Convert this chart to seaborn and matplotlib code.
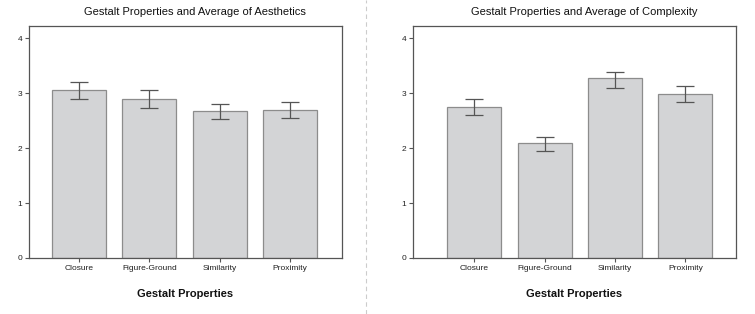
import numpy as np
import pandas as pd
import matplotlib
matplotlib.use("Agg")
import matplotlib.pyplot as plt
import seaborn as sns

# Datos
propiedades = ["Closure", "Figure-Ground", "Similarity", "Proximity"]

estetica_media = [3.05, 2.885, 2.67, 2.685]
estetica_inf = [2.90, 2.72, 2.52, 2.54]
estetica_sup = [3.20, 3.05, 2.81, 2.83]

complejidad_media = [2.75, 2.085, 3.27, 2.99]
complejidad_inf = [2.61, 1.94, 3.10, 2.83]
complejidad_sup = [2.885, 2.21, 3.39, 3.12]

sns.set_style("white")
plt.rcParams["font.family"] = ["Liberation Sans", "DejaVu Sans"]

fig = plt.figure(figsize=(7.55, 3.14), dpi=100)
ax1 = fig.add_axes([29 / 755, 1 - 258 / 314, 313 / 755, 232 / 314])
ax2 = fig.add_axes([413 / 755, 1 - 258 / 314, 323 / 755, 232 / 314])

paneles = [
    (ax1, estetica_media, estetica_inf, estetica_sup,
     "Gestalt Properties and Average of Aesthetics", (-0.71, 3.74)),
    (ax2, complejidad_media, complejidad_inf, complejidad_sup,
     "Gestalt Properties and Average of Complexity", (-0.87, 3.72)),
]

for ax, media, inf, sup, titulo, xlim in paneles:
    df = pd.DataFrame({"prop": propiedades, "valor": media})
    sns.barplot(data=df, x="prop", y="valor", ax=ax, color="#d3d4d6",
                saturation=1, edgecolor="#8c8c8c", linewidth=0.9,
                width=0.77, errorbar=None)
    media = np.array(media)
    yerr = [media - np.array(inf), np.array(sup) - media]
    ax.errorbar(np.arange(len(propiedades)), media, yerr=yerr, fmt="none",
                ecolor="#555555", elinewidth=0.9, capsize=6.8, capthick=0.9)
    ax.set_ylim(0, 4.22)
    ax.set_xlim(*xlim)
    ax.set_yticks([0, 1, 2, 3, 4])
    ax.set_ylabel("")
    ax.set_xlabel("Gestalt Properties", fontsize=8, fontweight="bold",
                  labelpad=12, color="#111111")
    ax.set_title(titulo, fontsize=8, pad=8, x=0.53, color="#111111")
    ax.tick_params(axis="both", which="both", direction="out", length=3,
                   width=0.8, color="#555555", labelsize=6, pad=2,
                   labelcolor="#222222", bottom=True, left=True)
    for lado in ax.spines.values():
        lado.set_color("#555555")
        lado.set_linewidth(0.9)

# linea divisoria punteada
fig.add_artist(plt.Line2D([366 / 755, 366 / 755], [0, 1], transform=fig.transFigure,
                          color="#cccccc", linestyle=(0, (4, 3)), linewidth=0.8))

fig.savefig("out.png", dpi=100)
